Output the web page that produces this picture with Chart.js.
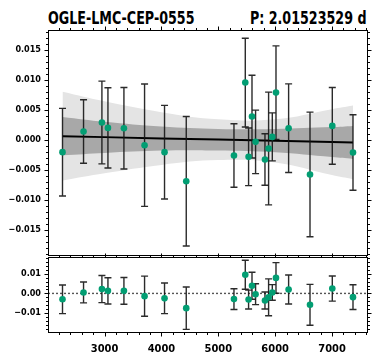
<!DOCTYPE html>
<html><head><meta charset="utf-8">
<script src="https://cdn.jsdelivr.net/npm/chart.js@4"></script>
<style>
html,body{margin:0;padding:0;background:#fff;width:379px;height:363px;overflow:hidden;}
#wrap{position:relative;width:379px;height:363px;background:#fff;}
canvas{position:absolute;left:0;top:0;}
.t{position:absolute;top:8px;line-height:20px;font-family:'DejaVu Sans Condensed','DejaVu Sans',sans-serif;font-weight:bold;font-size:17px;white-space:nowrap;color:#000;}
#tl{left:48px;transform:scaleX(0.83);transform-origin:left center;}
#tr{right:13px;transform:scaleX(0.83);transform-origin:right center;}
</style></head>
<body><div id="wrap">
<div class="t" id="tl"></div><div class="t" id="tr"></div>
<div style="position:absolute;left:0;top:0;width:379px;height:260px"><canvas id="c1" width="379" height="260"></canvas></div>
<div style="position:absolute;left:0;top:246px;width:379px;height:117px"><canvas id="c2" width="379" height="117"></canvas></div>
</div>
<script>
// ---- data ----
const titleName = 'OGLE-LMC-CEP-0555';
const titlePeriod = 'P: 2.01523529 d';
const epochs = [2261,2631,2954,3060,3341,3704,4055,4437,5276,5475,5533,5593,5656,5821,5885,5950,6015,6237,6613,7005,7369];
const values = [-0.00208,0.00137,0.00287,0.00197,0.00192,-0.00092,-0.00208,-0.00692,-0.00264,0.00953,-0.00286,0.00386,-0.00036,-0.0033,-0.00147,0.00047,0.00786,0.00192,-0.0058,0.0023,-0.00214];
const errors = [0.0073,0.0053,0.0069,0.0067,0.0068,0.0102,0.0078,0.0108,0.0053,0.0074,0.0048,0.0069,0.0053,0.0043,0.0094,0.0040,0.0078,0.0074,0.0104,0.0064,0.0063];
const residuals = [-0.0030,0.0005,0.0022,0.0013,0.0013,-0.0014,-0.0025,-0.0075,-0.0029,0.0095,-0.0031,0.0039,-0.0004,-0.0036,-0.0020,0.0005,0.0079,0.0020,-0.0058,0.0025,-0.0019];
const bandX = [2261,3000,4000,5000,6000,7000,7369];
const fitLine = [0.00058,0.00043,0.00022,0.00002,-0.00019,-0.00039,-0.00047];
const outerUpper = [0.0080,0.0064,0.0046,0.0034,0.0034,0.0051,0.0057];
const outerLower = [-0.0068,-0.0056,-0.0042,-0.0034,-0.0038,-0.0059,-0.0066];
const innerUpper = [0.0038,0.0030,0.0022,0.0018,0.0018,0.0021,0.0023];
const innerLower = [-0.0026,-0.0022,-0.0018,-0.0018,-0.0021,-0.0029,-0.0032];
const xTicks = [3000,4000,5000,6000,7000];
const yTicksTop = [-0.015,-0.010,-0.005,0.000,0.005,0.010,0.015];
const yTicksRes = [-0.01,0.00,0.01];
const xRange = [2006,7624];
const yRangeTop = [-0.0194,0.0183];
const yRangeRes = [-0.0199,0.0188];

document.getElementById('tl').textContent = titleName;
document.getElementById('tr').textContent = titlePeriod;

const FONT = "'DejaVu Sans Condensed','DejaVu Sans',sans-serif";
const PT = '#029e73';
const pts = (ys) => epochs.map((x,i)=>({x:x,y:ys[i]}));
const band = (ys) => bandX.map((x,i)=>({x:x,y:ys[i]}));
const minus = (s) => s.replace('-', '\u2212');

function range(a,b,step){const r=[];for(let v=a;v<=b+step/1e6;v+=step)r.push(+v.toFixed(6));return r;}

function errorBarPlugin(ys){
  return {id:'errbars', beforeDatasetDraw(chart,args){
    if(!chart.data.datasets[args.index].isPoints) return;
    const ctx=chart.ctx, xs=chart.scales.x, ysc=chart.scales.y;
    ctx.save();
    ctx.strokeStyle='rgba(20,20,20,0.9)'; ctx.lineWidth=1.4;
    epochs.forEach((e,i)=>{
      const px=xs.getPixelForValue(e);
      const t=ysc.getPixelForValue(ys[i]+errors[i]);
      const b=ysc.getPixelForValue(ys[i]-errors[i]);
      ctx.beginPath();
      ctx.moveTo(px,t);ctx.lineTo(px,b);
      ctx.moveTo(px-3.5,t);ctx.lineTo(px+3.5,t);
      ctx.moveTo(px-3.5,b);ctx.lineTo(px+3.5,b);
      ctx.stroke();
    });
    ctx.restore();
  }};
}

function framePlugin(o){
  return {id:'frame', afterDraw(chart){
    const ctx=chart.ctx, a=chart.chartArea, xs=chart.scales.x, ys=chart.scales.y;
    ctx.save();
    ctx.strokeStyle='#000'; ctx.lineWidth=1;
    const L=Math.round(a.left)+0.5, R=Math.round(a.right)-0.5, T=Math.round(a.top)+0.5, B=Math.round(a.bottom)-0.5;
    ctx.strokeRect(L,T,R-L,B-T);
    const xMaj=xTicks, xMin=range(2200,7600,200).filter(v=>v%1000!==0);
    const drawX=(vals,len)=>{vals.forEach(v=>{const p=Math.round(xs.getPixelForValue(v))+0.5;
      if(p<L||p>R)return;
      if(o.top){ctx.moveTo(p,T);ctx.lineTo(p,T-len);}
      if(o.bottom){ctx.moveTo(p,B);ctx.lineTo(p,B+len);}
    });};
    const drawY=(vals,len)=>{vals.forEach(v=>{const p=Math.round(ys.getPixelForValue(v))+0.5;
      if(p<T||p>B)return;
      ctx.moveTo(L,p);ctx.lineTo(L-len,p);
      ctx.moveTo(R,p);ctx.lineTo(R+len,p);
    });};
    ctx.beginPath();
    drawX(xMaj,4); drawX(xMin,2.5);
    drawY(o.yMaj,4); drawY(o.yMin,2.5);
    ctx.stroke();
    ctx.restore();
  }};
}

const zeroLinePlugin = {id:'zero', beforeDatasetsDraw(chart){
  const ctx=chart.ctx,a=chart.chartArea,p=chart.scales.y.getPixelForValue(0);
  ctx.save();ctx.strokeStyle='#555';ctx.lineWidth=1.4;ctx.setLineDash([2,2]);
  ctx.beginPath();ctx.moveTo(a.left,p);ctx.lineTo(a.right,p);ctx.stroke();ctx.restore();
}};

const yAxisCommon = (rangeArr, ticksArr, dec) => ({
  type:'linear', min:rangeArr[0], max:rangeArr[1],
  afterBuildTicks: s => { s.ticks = ticksArr.map(v=>({value:v})); },
  afterFit: s => { s.width = 48; s.paddingTop = 0; s.paddingBottom = 0; },
  grid:{display:true, drawOnChartArea:false, drawTicks:false},
  border:{display:false},
  ticks:{color:'#000', padding:7, font:{family:FONT, size:9, weight:'bold'},
    callback: v => minus(Number(v).toFixed(dec))}
});

// ---- top chart ----
new Chart(document.getElementById('c1'), {
  type:'scatter',
  data:{datasets:[
    {data:band(outerLower), showLine:true, borderWidth:0, pointRadius:0, tension:0.4, fill:false, order:6},
    {data:band(outerUpper), showLine:true, borderWidth:0, pointRadius:0, tension:0.4, fill:'-1', backgroundColor:'#e4e4e4', order:5},
    {data:band(innerLower), showLine:true, borderWidth:0, pointRadius:0, tension:0.4, fill:false, order:4},
    {data:band(innerUpper), showLine:true, borderWidth:0, pointRadius:0, tension:0.4, fill:'-1', backgroundColor:'#a8a8a8', order:3},
    {data:band(fitLine), showLine:true, borderColor:'#000', borderWidth:2, pointRadius:0, fill:false, order:2},
    {data:pts(values), isPoints:true, pointRadius:3.3, pointBackgroundColor:PT, pointBorderWidth:0, order:1}
  ]},
  options:{
    responsive:false, animation:false, events:[],
    layout:{padding:{top:30, bottom:4, right:11.5, left:0}},
    plugins:{legend:{display:false}, tooltip:{enabled:false}},
    scales:{
      x:{type:'linear', min:xRange[0], max:xRange[1], display:false},
      y: yAxisCommon(yRangeTop, yTicksTop, 3)
    }
  },
  plugins:[errorBarPlugin(values), framePlugin({top:true,bottom:false,yMaj:yTicksTop,yMin:range(-0.019,0.018,0.001)})]
});

// ---- residual chart ----
new Chart(document.getElementById('c2'), {
  type:'scatter',
  data:{datasets:[
    {data:pts(residuals), isPoints:true, pointRadius:3.3, pointBackgroundColor:PT, pointBorderWidth:0, order:1}
  ]},
  options:{
    responsive:false, animation:false, events:[],
    layout:{padding:{top:10.5, bottom:0, right:11.5, left:0}},
    plugins:{legend:{display:false}, tooltip:{enabled:false}},
    scales:{
      x:{type:'linear', min:xRange[0], max:xRange[1],
        afterBuildTicks: s => { s.ticks = xTicks.map(v=>({value:v})); },
        afterFit: s => { s.height = 30.5; s.paddingLeft = 0; s.paddingRight = 0; },
        grid:{display:true, drawOnChartArea:false, drawTicks:false},
        border:{display:false},
        ticks:{color:'#000', padding:10, maxRotation:0, font:{family:FONT, size:11, weight:'bold'}, callback:v=>String(v)}
      },
      y: yAxisCommon(yRangeRes, yTicksRes, 2)
    }
  },
  plugins:[zeroLinePlugin, errorBarPlugin(residuals), framePlugin({top:true,bottom:true,yMaj:yTicksRes,yMin:range(-0.018,0.018,0.002)})]
});
</script>
</body></html>
